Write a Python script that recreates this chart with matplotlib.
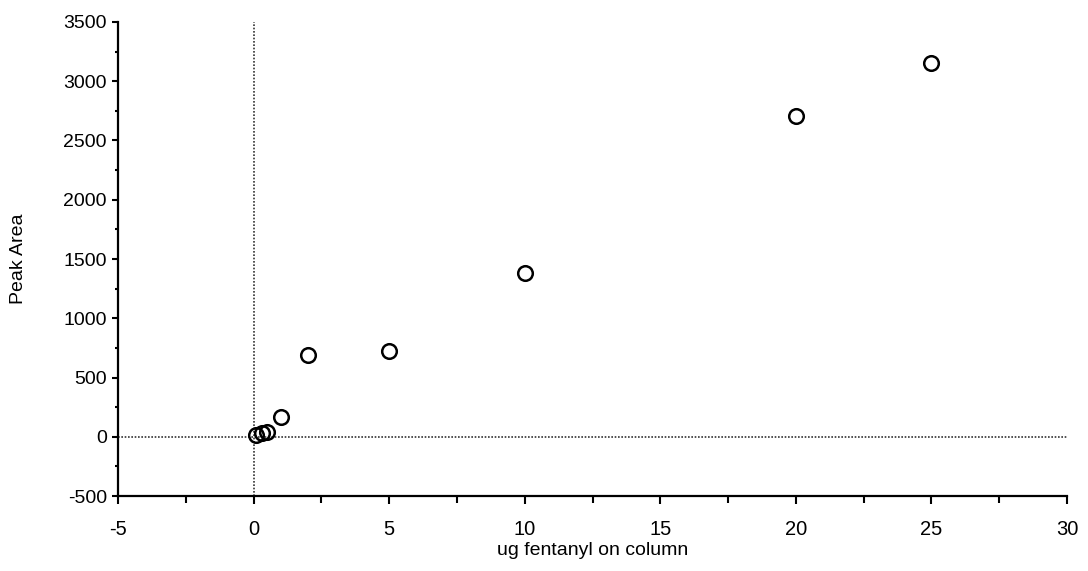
"""Calibration plot: fentanyl peak area vs amount on column."""
import matplotlib
matplotlib.use("Agg")
import matplotlib.pyplot as plt
from matplotlib.ticker import MultipleLocator

# amount injected (ug) and measured peak area
ug_fentanyl = [0.1, 0.3, 0.5, 1, 2, 5, 10, 20, 25]
peak_area = [15, 30, 43, 170, 690, 725, 1385, 2710, 3150]

x_ticks = [-5, 0, 5, 10, 15, 20, 25, 30]
y_ticks = [-500, 0, 500, 1000, 1500, 2000, 2500, 3000, 3500]

plt.rcParams["font.family"] = ["Liberation Sans", "DejaVu Sans"]
plt.rcParams["axes.unicode_minus"] = False

fig = plt.figure(figsize=(10.88, 5.71), dpi=100)
ax = fig.add_axes([0.1085, 0.1313, 0.8722, 0.8302])

# reference lines through the origin
ax.axvline(0, color="#333333", lw=1.2, ls=(0, (1, 1)), zorder=1)
ax.axhline(0, color="#333333", lw=1.2, ls=(0, (1, 1)), zorder=1)

ax.plot(ug_fentanyl, peak_area, ls="none", marker="o", ms=10.5,
        mfc="none", mec="black", mew=1.8, zorder=3)

ax.set_xlim(-5, 30)
ax.set_ylim(-500, 3500)
ax.set_xticks(x_ticks)
ax.set_yticks(y_ticks)
ax.xaxis.set_minor_locator(MultipleLocator(2.5))
ax.yaxis.set_minor_locator(MultipleLocator(250))

for side in ("top", "right"):
    ax.spines[side].set_visible(False)
for side in ("left", "bottom"):
    ax.spines[side].set_linewidth(1.6)
    ax.spines[side].set_color("black")

ax.tick_params(axis="x", which="major", direction="out", length=6, width=1.5,
               pad=11, labelsize=14.5)
ax.tick_params(axis="x", which="minor", direction="out", length=5, width=1.5)
ax.tick_params(axis="y", which="major", direction="out", length=4, width=1.5,
               pad=4, labelsize=14)
ax.tick_params(axis="y", which="minor", direction="out", length=2.5, width=1.5)

ax.set_xlabel("ug fentanyl on column", fontsize=14)
ax.set_ylabel("Peak Area", fontsize=14)
ax.xaxis.set_label_coords(0.5, -0.096)
ax.yaxis.set_label_coords(-0.096, 0.5)

fig.savefig("out.png", dpi=100)
